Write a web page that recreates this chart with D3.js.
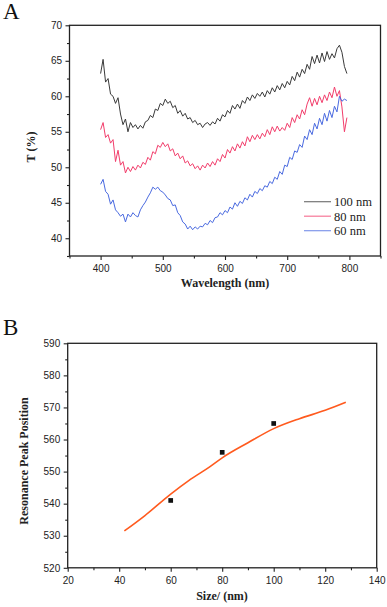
<html>
<head>
<script src="https://d3js.org/d3.v7.min.js"></script>
<style>
  body { margin: 0; background: white; }
  .tick text { font-family: "Liberation Sans", Arial, sans-serif; font-size: 10px; fill: #222; }
  .title { font-family: "Liberation Serif", "Times New Roman", serif; font-weight: bold; font-size: 12px; fill: #222; }
  .panel { font-family: "Liberation Serif", "Times New Roman", serif; font-size: 23px; fill: #111; }
  .legend { font-family: "Liberation Serif", "Times New Roman", serif; font-size: 12.5px; fill: #222; }
</style>
</head>
<body>
<svg id="chart" width="387" height="607"></svg>
<script>
// panel A: transmission spectra, 400-796 nm every 4 nm
const wlStart = 400, wlStep = 4;
const t100 = [63.2, 65.2, 62.0, 62.5, 60.3, 60.0, 59.0, 59.8, 57.5, 56.0,
  56.8, 55.0, 56.3, 55.6, 56.0, 55.4, 55.9, 55.5, 56.4, 56.6,
  57.3, 57.0, 58.2, 58.0, 59.0, 58.7, 59.6, 59.0, 59.3, 58.4,
  58.7, 57.6, 58.0, 57.2, 57.6, 56.8, 57.0, 56.3, 56.6, 56.0,
  56.2, 55.6, 56.1, 56.3, 55.9, 56.4, 56.1, 56.9, 56.5, 57.4,
  57.1, 58.0, 57.6, 58.7, 58.2, 58.9, 58.3, 59.4, 59.0, 59.9,
  59.4, 60.2, 59.7, 60.4, 60.0, 60.6, 59.9, 60.8, 60.3, 61.2,
  60.6, 61.5, 60.9, 61.8, 61.2, 62.1, 61.6, 62.8, 62.2, 63.4,
  62.7, 63.8, 63.2, 64.5, 63.8, 65.6, 64.6, 65.8, 64.7, 66.1,
  64.9, 66.3, 65.2, 66.0, 65.4, 66.7, 67.2, 66.2, 64.2, 63.2];
const t80 = [55.3, 56.3, 54.2, 54.6, 53.4, 53.9, 50.8, 52.4, 50.3, 50.8,
  49.2, 50.0, 49.4, 50.1, 49.6, 50.3, 49.9, 50.7, 50.4, 51.4,
  51.0, 52.2, 51.9, 53.1, 52.8, 53.5, 52.9, 53.3, 52.3, 52.6,
  51.6, 52.0, 51.2, 51.6, 50.6, 50.9, 50.2, 50.5, 49.8, 50.2,
  49.6, 50.3, 49.9, 50.6, 50.1, 50.8, 50.3, 51.2, 50.8, 51.8,
  51.3, 52.5, 52.0, 52.9, 52.3, 53.3, 52.7, 53.6, 53.0, 54.3,
  53.6, 54.5, 53.9, 54.6, 54.0, 54.8, 54.3, 55.3, 54.6, 55.7,
  55.0, 55.8, 55.1, 55.6, 55.2, 56.2, 55.6, 57.0, 56.3, 57.4,
  56.8, 58.1, 57.4, 58.9, 59.8, 58.6, 59.7, 58.8, 60.0, 59.1,
  60.2, 59.4, 60.6, 59.8, 61.3, 60.0, 60.8, 58.5, 55.0, 57.0];
const t60 = [47.6, 48.3, 46.6, 46.2, 44.8, 45.4, 44.0, 43.6, 43.1, 43.4,
  42.3, 43.4, 43.0, 43.6, 43.2, 43.0, 44.0, 44.6, 45.1, 45.8,
  46.4, 47.2, 46.9, 47.2, 46.7, 46.5, 46.1, 45.6, 45.4, 44.6,
  44.7, 43.6, 43.2, 42.3, 42.0, 41.3, 41.7, 41.2, 41.6, 41.3,
  41.7, 41.6, 42.1, 41.9, 42.5, 42.2, 42.9, 43.0, 43.6, 43.3,
  43.9, 43.6, 44.4, 44.1, 45.0, 44.5, 45.2, 44.9, 45.7, 45.4,
  46.2, 45.8, 46.6, 46.3, 47.0, 46.7, 47.4, 47.2, 48.0, 47.7,
  48.6, 48.3, 49.4, 49.0, 50.3, 50.1, 51.4, 51.1, 52.3, 52.1,
  53.2, 52.8, 54.4, 53.9, 55.3, 54.6, 56.2, 55.4, 56.9, 56.0,
  57.6, 56.5, 58.0, 57.0, 58.6, 57.8, 60.0, 59.3, 59.6, 59.4];
const seriesNames = ["100 nm", "80 nm", "60 nm"];
const seriesColors = ["#3a3a3a", "#f23d6b", "#4a6ae0"];
const xTicksA = [400, 500, 600, 700, 800];
const yTicksA = [40, 45, 50, 55, 60, 65, 70];

// panel B: resonance peak vs size
const sizes = [60, 80, 100];
const peaks = [541, 556, 565];
const fitSize = [42, 50, 60, 67, 75, 80, 90, 100, 110, 120, 128];
const fitPeak = [531.5, 536.3, 543.0, 547.2, 551.4, 554.3, 559.0, 563.4, 566.5, 569.1, 571.6];
const xTicksB = [20, 40, 60, 80, 100, 120, 140];
const yTicksB = [520, 530, 540, 550, 560, 570, 580, 590];

const svg = d3.select("#chart");

function frame(g, x, y) {
  const [x0, x1] = x.range(), [y0, y1] = y.range();
  g.append("rect")
    .attr("x", x0).attr("y", y1)
    .attr("width", x1 - x0).attr("height", y0 - y1)
    .attr("fill", "none").attr("stroke", "#222").attr("stroke-width", 1.3);
}

function axes(g, x, y, xMajor, xMinor, yMajor, yMinor) {
  const [y0] = y.range(), [x0] = x.range();
  g.append("g").attr("transform", `translate(0,${y0})`)
    .call(d3.axisBottom(x).tickValues(xMinor).tickSize(2.5).tickFormat(""))
    .call(a => a.select(".domain").remove());
  g.append("g").attr("transform", `translate(0,${y0})`)
    .call(d3.axisBottom(x).tickValues(xMajor).tickSize(4).tickPadding(5).tickFormat(d3.format("d")))
    .call(a => a.select(".domain").remove());
  g.append("g").attr("transform", `translate(${x0},0)`)
    .call(d3.axisLeft(y).tickValues(yMinor).tickSize(2.5).tickFormat(""))
    .call(a => a.select(".domain").remove());
  g.append("g").attr("transform", `translate(${x0},0)`)
    .call(d3.axisLeft(y).tickValues(yMajor).tickSize(4).tickPadding(3.5).tickFormat(d3.format("d")))
    .call(a => a.select(".domain").remove());
  g.selectAll(".tick line").attr("stroke", "#222").attr("stroke-width", 1.1);
}

// ---- panel A ----
const gA = svg.append("g");
const xA = d3.scaleLinear().domain([350, 850]).range([69.5, 380.5]);
const yA = d3.scaleLinear().domain([37.5, 70]).range([256, 25.3]);

axes(gA, xA, yA, xTicksA, d3.range(350, 851, 50).filter(v => v % 100 != 0),
  yTicksA, d3.range(37.5, 70, 5));

const lineA = d3.line()
  .x((d, i) => xA(wlStart + i * wlStep))
  .y(d => yA(d));

[t100, t80, t60].forEach((s, k) => {
  gA.append("path").datum(s)
    .attr("d", lineA)
    .attr("fill", "none")
    .attr("stroke", seriesColors[k])
    .attr("stroke-width", 1);
});
frame(gA, xA, yA);

const legend = gA.selectAll("g.leg").data(seriesNames)
  .join("g").attr("class", "leg")
  .attr("transform", (d, i) => `translate(304,${201.7 + i * 14.5})`);
legend.append("line")
  .attr("x1", 0).attr("x2", 27)
  .attr("stroke", (d, i) => seriesColors[i])
  .attr("stroke-opacity", 0.7)
  .attr("stroke-width", 1.2);
legend.append("text").attr("class", "legend")
  .attr("x", 30).attr("dy", "0.35em")
  .text(d => d);

gA.append("text").attr("class", "title")
  .attr("x", 225).attr("y", 287)
  .attr("text-anchor", "middle")
  .text("Wavelength (nm)");
gA.append("text").attr("class", "title")
  .attr("transform", "translate(35,147) rotate(-90)")
  .attr("text-anchor", "middle")
  .text("T (%)");
gA.append("text").attr("class", "panel").attr("x", 3).attr("y", 19).text("A");

// ---- panel B ----
const gB = svg.append("g");
const xB = d3.scaleLinear().domain([20, 140]).range([67.7, 376.7]);
const yB = d3.scaleLinear().domain([520, 590]).range([567.8, 343.3]);

axes(gB, xB, yB, xTicksB, d3.range(30, 140, 20), yTicksB, d3.range(525, 590, 10));

gB.append("path").datum(d3.zip(fitSize, fitPeak))
  .attr("d", d3.line().x(d => xB(d[0])).y(d => yB(d[1])).curve(d3.curveMonotoneX))
  .attr("fill", "none")
  .attr("stroke", "#ff5a1e")
  .attr("stroke-width", 1.6);

gB.selectAll("path.pt").data(d3.zip(sizes, peaks))
  .join("path").attr("class", "pt")
  .attr("d", d3.symbol(d3.symbolSquare, 22))
  .attr("transform", d => `translate(${xB(d[0])},${yB(d[1])})`)
  .attr("fill", "#111");
frame(gB, xB, yB);

gB.append("text").attr("class", "title")
  .attr("x", 222).attr("y", 600)
  .attr("text-anchor", "middle")
  .text("Size/ (nm)");
gB.append("text").attr("class", "title")
  .attr("transform", "translate(28,461) rotate(-90)")
  .attr("text-anchor", "middle")
  .text("Resonance Peak Position");
gB.append("text").attr("class", "panel").attr("x", 3).attr("y", 335).text("B");
</script>
</body>
</html>
